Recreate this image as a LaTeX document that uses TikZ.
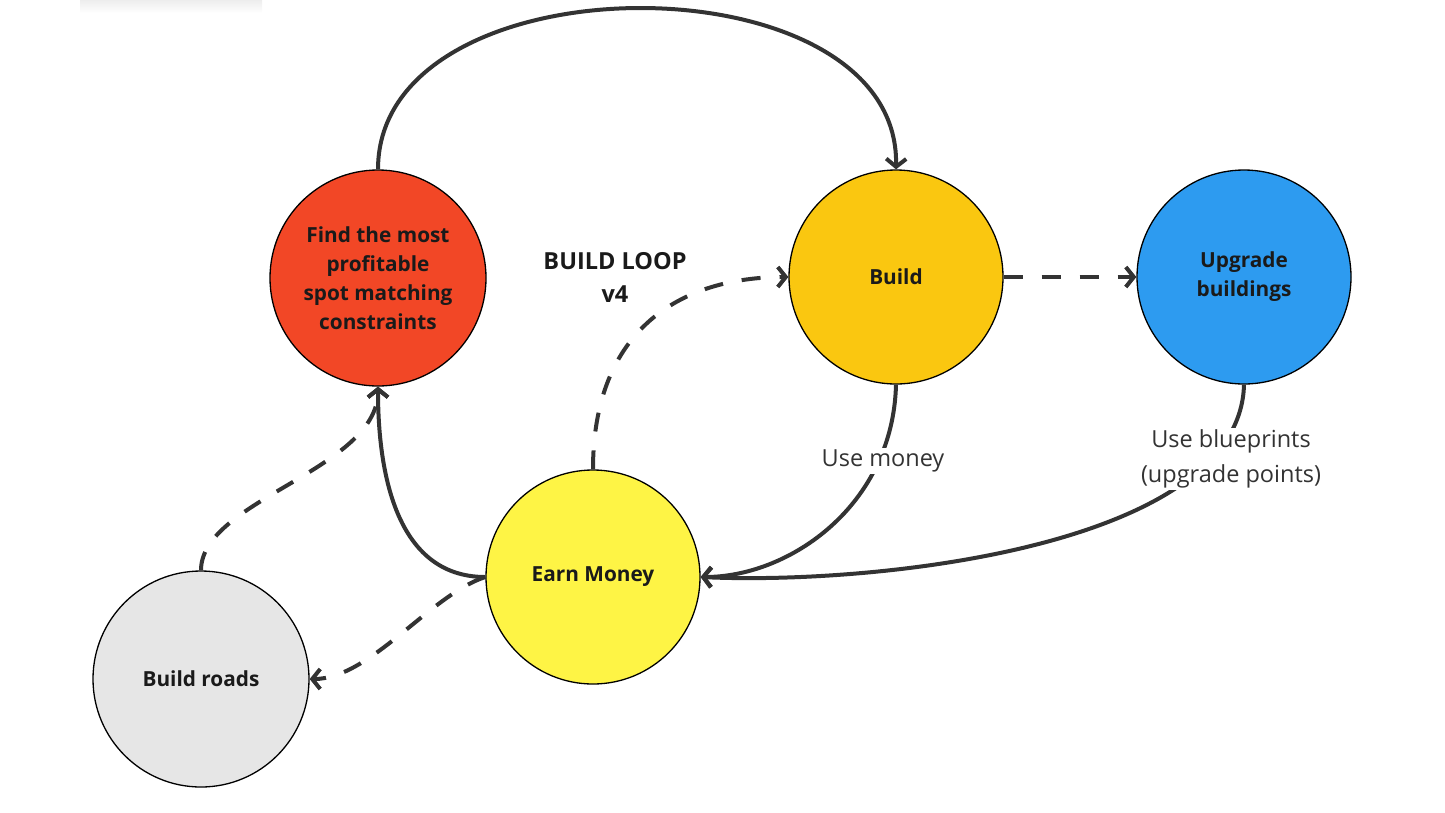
\documentclass[tikz,border=0pt]{standalone}
\usepackage{fontspec}
\setmainfont{Open Sans}
\usetikzlibrary{arrows.meta}
\definecolor{cred}{HTML}{F24726}
\definecolor{cbuild}{HTML}{FAC710}
\definecolor{cblue}{HTML}{2D9BF0}
\definecolor{cearn}{HTML}{FEF445}
\definecolor{cgray}{HTML}{E6E6E6}
\definecolor{ctext}{HTML}{1A1A1A}
\definecolor{cline}{HTML}{333333}
\begin{document}
\begin{tikzpicture}[x=1pt,y=-1pt,
  bubble/.style={circle, draw=black, line width=1.3pt, minimum size=214pt, inner sep=0pt,
    text=ctext, align=center, font=\bfseries\fontsize{20.8}{29}\selectfont},
  conn/.style={draw=cline, line width=4pt, -{Straight Barb[length=8pt,width=20pt]}},
  dconn/.style={conn, dash pattern=on 19pt off 19pt},
  lbl/.style={fill=white, text=cline, align=center, inner sep=2pt, font=\fontsize{23.5}{35}\selectfont}]
\useasboundingbox (0,0) rectangle (1445,812);
\shade[top color=black!7, bottom color=white] (80,0) rectangle (262,13);

\node[bubble, fill=cred, minimum size=216pt] (find) at (378,278) {Find the most\\profitable\\spot matching\\constraints};
\node[bubble, fill=cbuild] (build) at (896,277) {Build};
\node[bubble, fill=cblue] (upg) at (1244,277) {Upgrade\\buildings};
\node[bubble, fill=cearn] (earn) at (593,577) {Earn Money};
\node[bubble, fill=cgray, minimum size=216pt] (roads) at (201,679) {Build roads};
\node[text=ctext, align=center, font=\bfseries\fontsize{23.5}{33}\selectfont] (title) at (615,277) {BUILD LOOP\\v4};

\draw[conn] (find.north) .. controls (378,-45) and (900,-45) .. (build.north);
\draw[dconn] (build.east) -- (upg.west);
\draw[dconn] (earn.north) .. controls (593,330) and (680,277) .. (build.west);
\draw[conn] (build.south) .. controls (893,505) and (790,577) .. (earn.east);
\draw[conn] (upg.south) .. controls (1240,545) and (880,585) .. (earn.east);
\draw[conn] (earn.west) .. controls (395,577) and (378,470) .. (find.south);
\draw[dconn] (earn.west) .. controls (430,595) and (370,679) .. (roads.east);
\draw[dconn] (roads.north) .. controls (201,500) and (378,470) .. (find.south);

\node[lbl] (l1) at (883,461) {Use money};
\node[lbl] (l2) at (1231,459) {Use blueprints\\(upgrade points)};
\end{tikzpicture}
\end{document}
